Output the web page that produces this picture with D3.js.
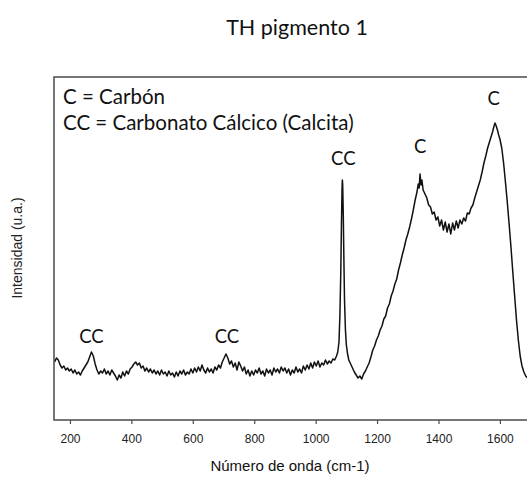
<!DOCTYPE html>
<html>
<head>
<meta charset="utf-8">
<script src="https://cdn.jsdelivr.net/npm/d3@7"></script>
<style>
  html, body { margin: 0; padding: 0; background: #fff; }
  svg { display: block; }
</style>
</head>
<body>
<svg id="chart" width="527" height="479"></svg>
<script>
// ---- data ----
const title = "TH pigmento 1";
const xLabel = "Número de onda (cm-1)";
const yLabel = "Intensidad (u.a.)";
const xTicks = [200, 400, 600, 800, 1000, 1200, 1400, 1600];
const legendLines = ["C = Carbón", "CC = Carbonato Cálcico (Calcita)"];
const peakLabels = ["CC", "CC", "CC", "C", "C"];
const peakPositions = [270, 711, 1090, 1340, 1580];
const peakHeights = [68, 68, 246, 258, 306];

const wavenumbers = [
  150,156,162,168,174,180,186,192,198,204,210,216,222,228,234,240,246,252,258,264,
  270,276,282,288,294,300,306,312,318,324,330,336,342,348,354,360,366,372,378,384,
  390,396,402,408,414,420,426,432,438,444,450,456,462,468,474,480,486,492,498,504,
  510,516,522,528,534,540,546,552,558,564,570,576,582,588,594,600,606,612,618,624,
  630,636,642,648,654,660,666,672,678,684,690,696,702,708,714,720,726,732,738,744,
  750,756,762,768,774,780,786,792,798,804,810,816,822,828,834,840,846,852,858,864,
  870,876,882,888,894,900,906,912,918,924,930,936,942,948,954,960,966,972,978,984,
  990,996,1002,1008,1014,1020,1026,1032,1038,1044,1050,1056,1062,1068,1072,1076,1079,1082,1084,1086,
  1087,1088,1090,1092,1094,1097,1100,1104,1108,1114,1120,1126,1132,1138,1144,1150,1156,1162,1168,1174,
  1180,1186,1192,1198,1204,1210,1216,1222,1228,1234,1240,1246,1252,1258,1264,1270,1276,1282,1288,1294,
  1300,1306,1312,1318,1324,1330,1334,1337,1340,1343,1346,1350,1356,1362,1368,1374,1380,1386,1392,1398,
  1404,1410,1416,1422,1428,1434,1440,1446,1452,1458,1464,1470,1476,1482,1488,1494,1500,1506,1512,1518,
  1524,1530,1536,1542,1548,1554,1560,1566,1572,1576,1580,1584,1588,1592,1596,1600,1606,1612,1618,1624,
  1630,1636,1642,1648,1654,1660,1666,1672,1678,1684,1690,1696
];
const intensity = [
  58,62,60,55,52,54,50,52,49,51,47,50,46,48,45,49,52,55,58,63,
  68,64,56,50,46,49,47,51,46,49,45,50,47,44,40,45,42,48,44,49,
  46,51,53,56,58,55,57,52,54,49,52,48,51,47,50,46,49,45,50,46,
  48,44,49,45,47,43,48,44,49,46,50,45,48,46,51,47,52,48,53,49,
  55,50,47,52,48,51,47,53,50,55,52,58,62,66,62,56,59,53,57,50,
  58,54,49,53,46,50,44,49,45,50,47,52,46,49,44,51,47,50,45,52,
  48,51,47,53,49,52,47,51,45,50,47,53,48,51,47,54,50,55,51,57,
  52,58,54,59,53,57,55,60,56,59,57,61,60,64,68,78,105,150,195,232,
  240,236,205,160,120,90,75,66,60,56,52,48,45,42,44,41,46,49,53,57,
  63,70,74,80,84,90,94,101,104,112,116,124,129,136,141,150,157,165,172,180,
  186,193,201,210,220,228,236,232,246,235,240,230,226,222,215,213,206,208,200,203,
  194,200,190,198,188,196,186,197,190,199,192,200,196,202,199,207,206,212,215,222,
  228,234,240,248,257,264,272,278,284,288,293,297,294,290,285,281,272,257,238,218,
  196,173,148,124,100,80,64,54,48,44,42,40
];

// ---- layout ----
const margin = { left: 54, top: 77, bottom: 420, right: 530 };
const svg = d3.select("#chart");

const x = d3.scaleLinear().domain([148, 1698]).range([margin.left, margin.right]);
const y = d3.scaleLinear().domain([0, 343]).range([margin.bottom, margin.top]);

const sansUI = "Lato, 'Open Sans', 'DejaVu Sans', sans-serif";
const sansAx = "'Liberation Sans', Arial, sans-serif";

// title
svg.append("text")
  .attr("x", 297).attr("y", 35)
  .attr("text-anchor", "middle")
  .style("font-family", sansUI).style("font-size", "21.5px")
  .style("fill", "#111")
  .text(title);

// spectrum
const pts = wavenumbers.map((w, i) => [w, intensity[i]]);
svg.append("defs").append("clipPath").attr("id", "clip")
  .append("rect").attr("x", margin.left).attr("y", margin.top)
  .attr("width", margin.right - margin.left).attr("height", margin.bottom - margin.top);

svg.append("path")
  .datum(pts)
  .attr("clip-path", "url(#clip)")
  .attr("fill", "none")
  .attr("stroke", "#111")
  .attr("stroke-width", 1.5)
  .attr("stroke-linejoin", "round")
  .attr("d", d3.line().x(d => x(d[0])).y(d => y(d[1])));

// frame
svg.append("rect")
  .attr("x", margin.left).attr("y", margin.top)
  .attr("width", margin.right - margin.left).attr("height", margin.bottom - margin.top)
  .attr("fill", "none").attr("stroke", "#4a4a4a").attr("stroke-width", 1.5);

// x axis
const xAxis = svg.append("g")
  .attr("transform", `translate(0,${margin.bottom})`)
  .call(d3.axisBottom(x).tickValues(xTicks).tickFormat(d3.format("d"))
    .tickSize(4).tickSizeOuter(0).tickPadding(10));
xAxis.select(".domain").remove();
xAxis.selectAll(".tick line").attr("stroke", "#4a4a4a").attr("stroke-width", 1.2);
xAxis.selectAll(".tick text")
  .style("font-family", sansAx).style("font-size", "12px").style("fill", "#222");

// x label
svg.append("text")
  .attr("x", 290).attr("y", 471)
  .attr("text-anchor", "middle")
  .style("font-family", sansAx).style("font-size", "15px").style("fill", "#111")
  .text(xLabel);

// y label
svg.append("text")
  .attr("transform", `translate(22,${248}) rotate(-90)`)
  .attr("text-anchor", "middle")
  .style("font-family", sansAx).style("font-size", "14px").style("fill", "#222")
  .text(yLabel);

// legend text
legendLines.forEach((t, i) => {
  svg.append("text")
    .attr("x", 63).attr("y", 104 + i * 26)
    .style("font-family", sansUI).style("font-size", "20.5px").style("fill", "#111")
    .text(t);
});

// peak labels
peakLabels.forEach((t, i) => {
  svg.append("text")
    .attr("x", x(peakPositions[i]))
    .attr("y", y(peakHeights[i]) - 9)
    .attr("text-anchor", "middle")
    .style("font-family", sansUI).style("font-size", "18.5px").style("fill", "#111")
    .text(t);
});
</script>
</body>
</html>
